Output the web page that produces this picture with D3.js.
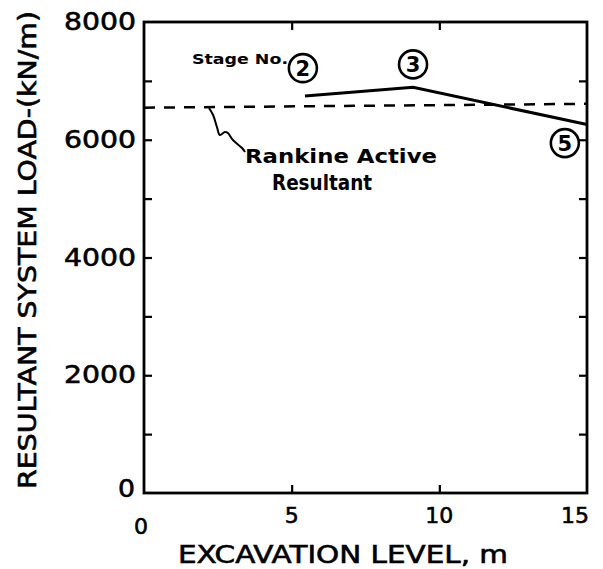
<!DOCTYPE html>
<html>
<head>
<meta charset="utf-8">
<script src="https://d3js.org/d3.v7.min.js"></script>
<style>
  body { margin: 0; background: #fff; }
  svg { display: block; }
  text { font-family: "DejaVu Sans", sans-serif; fill: #000; }
  .thick { stroke: #000; stroke-width: 0.6px; }
</style>
</head>
<body>
<script>
// ---- data ----
const xDomain = [0, 15];
const yDomain = [0, 8000];
const xTickLabels = [0, 5, 10, 15];
const xMinorTicks = [5, 10];
const yTickLabels = [0, 2000, 4000, 6000, 8000];
const yMinorTicks = [1000, 2000, 3000, 4000, 5000, 6000, 7000];

// measured resultant system load (excavation level m, kN/m)
const measuredX = [5.45, 9.11, 15];
const measuredY = [6743, 6890, 6260];

// Rankine active resultant (dashed)
const rankineX = [0, 15];
const rankineY = [6545, 6610];

// stage number callouts
const stageNames = ["2", "3", "5"];
const stageX = [5.38, 9.11, 14.25];
const stageY = [7216, 7280, 5943];

// leader line from dashed line to annotation
const leaderX = [2.20, 2.34, 2.47, 2.57, 2.74, 2.84, 3.01, 3.32, 3.42];
const leaderY = [6539, 6420, 6216, 6080, 6131, 6114, 5995, 5859, 5791];

const W = 603, H = 569;
const m = { left: 144, right: 587, top: 22, bottom: 493 };

const svg = d3.select("body").append("svg").attr("width", W).attr("height", H);

const x = d3.scaleLinear().domain(xDomain).range([m.left, m.right]);
const y = d3.scaleLinear().domain(yDomain).range([m.bottom, m.top]);

// inward ticks
function styleAxis(g) {
  g.select(".domain").remove();
  g.selectAll(".tick line").attr("stroke", "#000").attr("stroke-width", 2.2);
  g.selectAll(".tick text").remove();
}
svg.append("g").attr("transform", `translate(${m.left},0)`)
  .call(d3.axisLeft(y).tickValues(yMinorTicks).tickSize(-8)).call(styleAxis);
svg.append("g").attr("transform", `translate(${m.right},0)`)
  .call(d3.axisRight(y).tickValues(yMinorTicks).tickSize(-8)).call(styleAxis);
svg.append("g").attr("transform", `translate(0,${m.top})`)
  .call(d3.axisTop(x).tickValues(xMinorTicks).tickSize(-8)).call(styleAxis);
svg.append("g").attr("transform", `translate(0,${m.bottom})`)
  .call(d3.axisBottom(x).tickValues(xMinorTicks).tickSize(-8)).call(styleAxis);

// frame
svg.append("rect")
  .attr("x", x(0)).attr("y", y(8000))
  .attr("width", x(15) - x(0)).attr("height", y(0) - y(8000))
  .attr("fill", "none").attr("stroke", "#000").attr("stroke-width", 2.8);

// y tick labels
svg.append("g").selectAll("text").data(yTickLabels).enter().append("text")
  .attr("class", "thick")
  .attr("x", d => d === 0 ? m.left - 9 : m.left - 8)
  .attr("y", d => y(d) + 8 - (d === 0 ? 4 : 0))
  .attr("text-anchor", "end")
  .attr("font-size", 24)
  .attr("textLength", d => d === 0 ? 17 : 72)
  .attr("lengthAdjust", "spacingAndGlyphs")
  .text(d => d);

// x tick labels
svg.append("g").selectAll("text").data(xTickLabels).enter().append("text")
  .attr("class", "thick")
  .attr("x", d => d === 0 ? x(d) - 3 : d === 15 ? x(d) - 12 : x(d))
  .attr("y", d => d === 0 ? 534 : 523)
  .attr("text-anchor", "middle")
  .attr("font-size", 22)
  .text(d => d);

// axis titles
svg.append("text")
  .attr("class", "thick")
  .attr("transform", `translate(36,${(10 + 490) / 2}) rotate(-90)`)
  .attr("text-anchor", "middle")
  .attr("font-size", 24)
  .attr("textLength", 478)
  .attr("lengthAdjust", "spacingAndGlyphs")
  .text("RESULTANT SYSTEM LOAD-(kN/m)");

svg.append("text")
  .attr("class", "thick")
  .attr("x", 178).attr("y", 563)
  .attr("font-size", 24)
  .attr("textLength", 330)
  .attr("lengthAdjust", "spacingAndGlyphs")
  .text("EXCAVATION LEVEL, m");

// rankine dashed line
const line = d3.line().x(d => x(d[0])).y(d => y(d[1]));
svg.append("path")
  .datum(rankineX.map((v, i) => [v, rankineY[i]]))
  .attr("d", line)
  .attr("fill", "none").attr("stroke", "#000").attr("stroke-width", 2.5)
  .attr("stroke-dasharray", "11,9");

// measured line
svg.append("path")
  .datum(measuredX.map((v, i) => [v, measuredY[i]]))
  .attr("d", line)
  .attr("fill", "none").attr("stroke", "#000").attr("stroke-width", 3);

// leader
svg.append("path")
  .datum(leaderX.map((v, i) => [v, leaderY[i]]))
  .attr("d", line.curve(d3.curveCatmullRom))
  .attr("fill", "none").attr("stroke", "#000").attr("stroke-width", 2);

// stage circles
const st = svg.append("g").selectAll("g").data(stageNames).enter().append("g")
  .attr("transform", (d, i) => `translate(${x(stageX[i])},${y(stageY[i])})`);
st.append("circle").attr("r", 14).attr("fill", "#fff")
  .attr("stroke", "#000").attr("stroke-width", 2.6);
st.append("text").attr("text-anchor", "middle").attr("y", 7.5)
  .attr("font-size", 21).attr("font-weight", "bold").text(d => d);

// annotations
svg.append("text").attr("x", 192).attr("y", 64)
  .attr("font-size", 14).attr("font-weight", "bold")
  .attr("textLength", 96).attr("lengthAdjust", "spacingAndGlyphs")
  .text("Stage No.");

svg.append("text").attr("x", 245).attr("y", 163)
  .attr("font-size", 20).attr("font-weight", "bold")
  .attr("textLength", 192).attr("lengthAdjust", "spacingAndGlyphs")
  .text("Rankine Active");

svg.append("text").attr("x", 272).attr("y", 190)
  .attr("font-size", 21).attr("font-weight", "bold")
  .attr("textLength", 100).attr("lengthAdjust", "spacingAndGlyphs")
  .text("Resultant");
</script>
</body>
</html>
